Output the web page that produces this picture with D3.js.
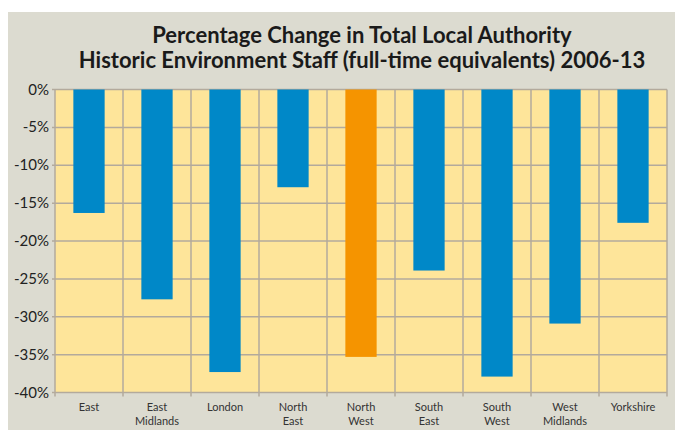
<!DOCTYPE html>
<html>
<head>
<meta charset="utf-8">
<script src="https://cdn.jsdelivr.net/npm/d3@7"></script>
<style>
  body { margin: 0; background: #fff; }
  text { font-family: Lato, "Open Sans", sans-serif; }
</style>
</head>
<body>
<div id="chart"></div>
<script>
const regions = ["East", "East\nMidlands", "London", "North\nEast", "North\nWest", "South\nEast", "South\nWest", "West\nMidlands", "Yorkshire"];
const change = [-16.3, -27.7, -37.3, -12.9, -35.3, -23.9, -37.9, -30.9, -17.6];
const highlight = ["North\nWest"];
const yTicks = [0, -5, -10, -15, -20, -25, -30, -35, -40];
const titleLines = ["Percentage Change in Total Local Authority", "Historic Environment Staff (full-time equivalents) 2006-13"];

function main() {
    const W = 675, H = 430;
    const plot = { left: 55, right: 667, top: 89.5, bottom: 392.5 };

    const svg = d3.select("#chart").append("svg")
        .attr("width", W)
        .attr("height", H);

    // grey panel
    svg.append("rect")
        .attr("x", 8).attr("y", 12)
        .attr("width", W - 8).attr("height", H - 12)
        .attr("fill", "#dcdbd0");

    const x = d3.scaleBand().domain(regions).range([plot.left, plot.right]).paddingInner(0).paddingOuter(0);
    const y = d3.scaleLinear().domain([0, -40]).range([plot.top, plot.bottom]);

    svg.append("rect")
        .attr("x", plot.left).attr("y", plot.top)
        .attr("width", plot.right - plot.left).attr("height", plot.bottom - plot.top)
        .attr("fill", "#fee59a");

    const grid = "#b3aa9c";

    // horizontal grid + left ticks
    svg.append("g").selectAll("line")
        .data(yTicks)
        .enter().append("line")
        .attr("x1", plot.left - 3).attr("x2", plot.right)
        .attr("y1", d => y(d)).attr("y2", d => y(d))
        .attr("stroke", grid).attr("stroke-width", 1.5);

    // vertical grid at category boundaries
    const bounds = regions.map(r => x(r)).concat([plot.right]);
    svg.append("g").selectAll("line")
        .data(bounds)
        .enter().append("line")
        .attr("x1", d => d).attr("x2", d => d)
        .attr("y1", plot.top).attr("y2", plot.bottom + 4)
        .attr("stroke", grid).attr("stroke-width", 1.5);

    // bars
    const bw = x.bandwidth() * 0.46;
    svg.append("g").selectAll("rect")
        .data(regions)
        .enter().append("rect")
        .attr("x", d => x(d) + (x.bandwidth() - bw) / 2)
        .attr("y", y(0))
        .attr("width", bw)
        .attr("height", (d, i) => y(change[i]) - y(0))
        .attr("fill", d => highlight.includes(d) ? "#f59400" : "#0088c8");

    // y labels
    svg.append("g").selectAll("text")
        .data(yTicks)
        .enter().append("text")
        .attr("x", plot.left - 6)
        .attr("y", d => y(d) + 5)
        .attr("text-anchor", "end")
        .attr("font-size", "15px")
        .attr("fill", "#222")
        .text(d => d + "%");

    // x labels
    const xl = svg.append("g").selectAll("text")
        .data(regions)
        .enter().append("text")
        .attr("x", d => x(d) + x.bandwidth() / 2)
        .attr("y", 411)
        .attr("text-anchor", "middle")
        .attr("font-size", "11px")
        .attr("fill", "#333");
    xl.selectAll("tspan")
        .data(d => d.split("\n"))
        .enter().append("tspan")
        .attr("x", function () { return d3.select(this.parentNode).attr("x"); })
        .attr("dy", (d, i) => i === 0 ? 0 : 14)
        .text(d => d);

    // title
    svg.append("g").selectAll("text")
        .data(titleLines)
        .enter().append("text")
        .attr("x", 362)
        .attr("y", (d, i) => 43 + i * 25)
        .attr("text-anchor", "middle")
        .attr("font-size", "22px")
        .attr("font-weight", "bold")
        .attr("fill", "#1a1a1a")
        .text(d => d);
}
main();
</script>
</body>
</html>
